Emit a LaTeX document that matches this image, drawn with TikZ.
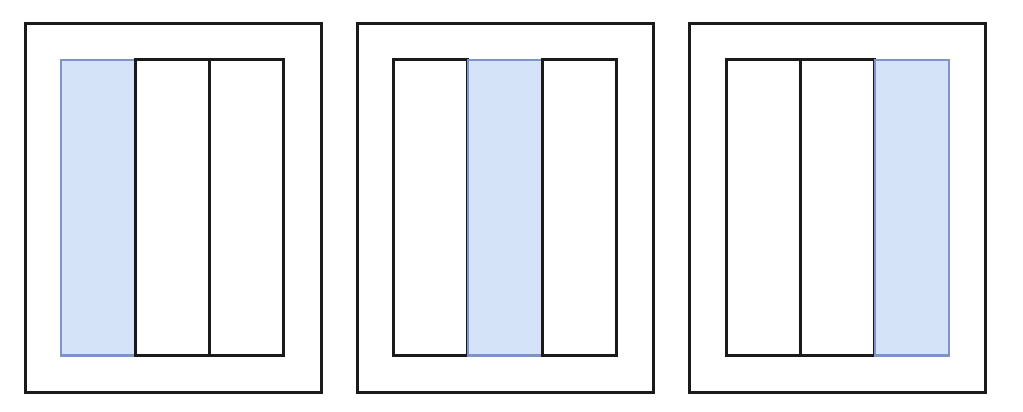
\documentclass[tikz,border=0pt]{standalone}
\definecolor{cellblue}{HTML}{D5E3F9}
\definecolor{celledge}{HTML}{7F93C6}
\definecolor{lineblack}{HTML}{1A1A1A}
\tikzset{
  outerbox/.style={draw=lineblack, line width=3pt, fill=white, anchor=north west, minimum width=296pt, minimum height=368pt, inner sep=0pt, outer sep=0pt},
  plaincell/.style={draw=lineblack, line width=3pt, fill=white, anchor=north west, minimum width=74.3pt, minimum height=295.5pt, inner sep=0pt, outer sep=0pt},
  bluecell/.style={draw=celledge, line width=2.2pt, fill=cellblue, anchor=north west, minimum width=74.3pt, minimum height=295.5pt, inner sep=0pt, outer sep=0pt}
}
\begin{document}
\begin{tikzpicture}[x=1pt,y=-1pt]
\useasboundingbox (0,0) rectangle (1023,412);
% panel 1
\node[outerbox] (o1) at (25,24) {};
\node[bluecell] (p1a) at (61,60) {};
\node[plaincell] (p1b) at (135.3,60) {};
\node[plaincell] (p1c) at (209.6,60) {};
% panel 2
\node[outerbox] (o2) at (357,24) {};
\node[plaincell] (p2a) at (393.5,60) {};
\node[bluecell] (p2b) at (467.8,60) {};
\node[plaincell] (p2c) at (542.1,60) {};
% panel 3
\node[outerbox] (o3) at (689.5,24) {};
\node[plaincell] (p3a) at (726.5,60) {};
\node[plaincell] (p3b) at (800.5,60) {};
\node[bluecell] (p3c) at (874.8,60) {};
\end{tikzpicture}
\end{document}
